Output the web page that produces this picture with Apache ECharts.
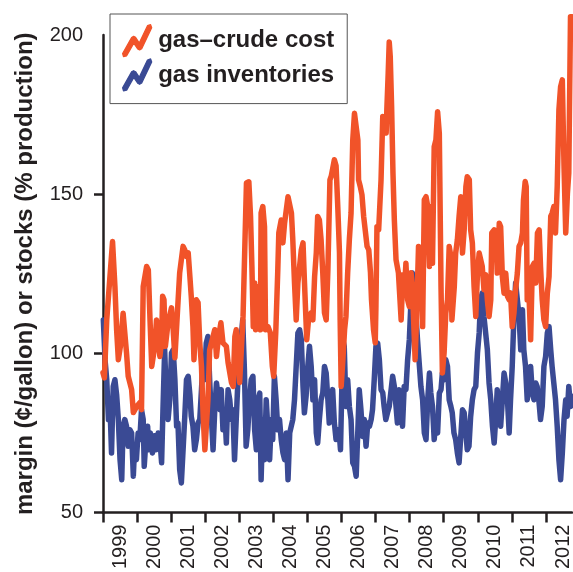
<!DOCTYPE html>
<html>
<head>
<meta charset="utf-8">
<script src="https://cdn.jsdelivr.net/npm/echarts@6/dist/echarts.min.js"></script>
<style>html,body{margin:0;padding:0;background:#fff}#c{width:573px;height:572px}</style>
</head>
<body>
<div id="c"></div>
<script>
const seriesNames = ['gas\u2013crude cost', 'gas inventories'];
const yearTicks = [1999, 2000, 2001, 2002, 2003, 2004, 2005, 2006, 2007, 2008, 2009, 2010, 2011, 2012];
const yTicks = [50, 100, 150];
const yAxisTitle = 'margin (\u00a2/gallon) or stocks (% production)';

const costYears = [1999.00,1999.04,1999.11,1999.28,1999.35,1999.40,1999.45,1999.51,1999.59,1999.69,1999.74,1999.84,1999.89,1999.99,2000.08,2000.13,2000.18,2000.28,2000.33,2000.38,2000.43,2000.47,2000.52,2000.57,2000.62,2000.67,2000.72,2000.75,2000.79,2000.83,2000.91,2001.01,2001.06,2001.11,2001.20,2001.25,2001.35,2001.40,2001.45,2001.50,2001.55,2001.59,2001.64,2001.67,2001.74,2001.79,2001.84,2001.89,2001.94,2001.99,2002.04,2002.08,2002.13,2002.23,2002.28,2002.33,2002.38,2002.46,2002.52,2002.62,2002.67,2002.77,2002.82,2002.87,2002.91,2002.96,2003.01,2003.11,2003.16,2003.21,2003.28,2003.33,2003.37,2003.41,2003.45,2003.48,2003.52,2003.57,2003.62,2003.64,2003.69,2003.74,2003.77,2003.84,2003.91,2003.97,2004.01,2004.07,2004.13,2004.16,2004.23,2004.28,2004.33,2004.43,2004.48,2004.53,2004.57,2004.62,2004.67,2004.72,2004.77,2004.82,2004.87,2004.91,2004.98,2005.04,2005.11,2005.16,2005.21,2005.26,2005.30,2005.35,2005.40,2005.45,2005.50,2005.55,2005.60,2005.66,2005.70,2005.79,2005.84,2005.89,2005.94,2005.96,2005.99,2006.04,2006.09,2006.13,2006.18,2006.23,2006.28,2006.33,2006.38,2006.43,2006.48,2006.50,2006.55,2006.60,2006.65,2006.70,2006.75,2006.80,2006.85,2006.88,2006.94,2006.99,2007.01,2007.04,2007.09,2007.16,2007.21,2007.25,2007.31,2007.33,2007.37,2007.40,2007.43,2007.47,2007.51,2007.55,2007.60,2007.67,2007.75,2007.80,2007.84,2007.89,2007.94,2007.99,2008.04,2008.08,2008.13,2008.16,2008.20,2008.26,2008.33,2008.38,2008.43,2008.48,2008.53,2008.58,2008.62,2008.67,2008.72,2008.77,2008.82,2008.87,2008.92,2008.96,2009.01,2009.06,2009.11,2009.16,2009.21,2009.24,2009.31,2009.35,2009.40,2009.45,2009.50,2009.55,2009.60,2009.65,2009.69,2009.75,2009.79,2009.84,2009.89,2009.94,2009.99,2010.04,2010.13,2010.18,2010.23,2010.28,2010.33,2010.38,2010.41,2010.48,2010.53,2010.57,2010.63,2010.67,2010.72,2010.77,2010.82,2010.87,2010.92,2010.96,2011.01,2011.06,2011.11,2011.16,2011.21,2011.26,2011.31,2011.34,2011.39,2011.42,2011.45,2011.50,2011.55,2011.60,2011.65,2011.70,2011.75,2011.80,2011.84,2011.89,2011.94,2011.99,2012.04,2012.09,2012.14,2012.18,2012.23,2012.28,2012.33,2012.38,2012.43,2012.48,2012.53,2012.58,2012.63,2012.67,2012.72,2012.78];
const costValues = [93.9,92.3,110.5,135.1,121.0,107.4,98.0,102.2,112.6,100.2,92.8,88.6,81.4,83.3,84.5,82.3,121.0,127.3,126.2,110.5,95.9,95.5,102.2,110.5,110.0,99.0,104.3,117.9,116.8,102.2,109.6,114.3,107.4,98.6,115.9,125.3,133.6,132.5,130.4,131.6,124.1,117.9,108.4,98.0,116.8,115.9,103.3,95.9,80.2,69.7,69.7,85.4,101.1,105.3,107.4,99.0,104.3,109.6,103.3,102.2,97.1,90.8,89.6,105.3,107.4,98.0,90.8,111.6,132.5,153.5,153.9,143.0,127.3,108.4,122.1,107.4,121.0,119.0,107.4,144.1,146.1,139.8,107.4,108.4,106.5,95.9,92.8,106.5,126.2,137.9,141.9,134.7,141.0,149.2,149.8,144.1,135.7,122.2,110.5,122.2,122.2,132.5,134.7,123.1,104.3,111.6,112.7,110.5,124.1,131.6,143.0,141.9,135.7,125.3,112.7,110.5,126.2,154.5,155.7,160.8,158.9,146.1,131.6,110.5,89.6,98.0,107.4,111.6,125.3,135.7,144.1,167.0,175.4,175.9,167.0,154.5,152.4,149.8,143.0,143.0,133.6,132.5,125.3,116.8,107.4,103.3,114.7,139.8,138.8,154.5,174.4,173.3,169.2,176.5,188.0,197.8,193.2,177.5,156.6,141.9,129.4,125.3,110.5,124.7,118.4,128.3,116.8,114.7,125.3,121.0,106.5,98.0,110.5,133.6,132.5,108.4,148.2,149.2,146.1,127.3,146.1,128.3,164.9,167.0,175.9,169.1,121.0,93.8,100.1,112.6,116.8,133.6,130.4,110.5,121.0,131.5,135.7,143.0,149.2,131.5,138.8,152.4,155.5,154.5,138.8,134.6,121.0,111.6,125.2,131.5,127.3,120.0,124.7,116.8,111.6,116.8,137.8,138.8,137.8,125.2,140.9,139.8,124.1,118.9,125.2,117.9,116.8,119.0,108.4,112.6,120.0,125.2,133.6,134.7,137.8,148.2,154.0,152.4,116.8,119.0,104.3,127.3,128.3,122.1,137.8,138.8,127.3,116.8,110.5,108.4,118.9,124.1,143.0,144.0,146.1,137.8,152.4,176.5,183.8,185.9,158.7,137.8,150.3,156.6,205.7,205.7];

const stockYears = [1999.01,1999.06,1999.11,1999.16,1999.20,1999.25,1999.30,1999.35,1999.40,1999.45,1999.50,1999.55,1999.59,1999.64,1999.69,1999.74,1999.79,1999.84,1999.89,1999.93,1999.98,2000.03,2000.08,2000.13,2000.18,2000.21,2000.26,2000.31,2000.34,2000.39,2000.45,2000.51,2000.55,2000.62,2000.67,2000.72,2000.76,2000.81,2000.86,2000.91,2000.96,2001.01,2001.06,2001.11,2001.16,2001.20,2001.25,2001.30,2001.35,2001.40,2001.45,2001.50,2001.55,2001.59,2001.64,2001.69,2001.74,2001.79,2001.84,2001.89,2001.93,2001.98,2002.03,2002.08,2002.13,2002.18,2002.23,2002.28,2002.33,2002.38,2002.43,2002.47,2002.52,2002.57,2002.62,2002.67,2002.72,2002.77,2002.81,2002.86,2002.91,2002.96,2003.01,2003.06,2003.10,2003.15,2003.20,2003.25,2003.30,2003.35,2003.40,2003.45,2003.50,2003.55,2003.60,2003.64,2003.69,2003.74,2003.79,2003.84,2003.89,2003.94,2003.98,2004.03,2004.08,2004.13,2004.18,2004.23,2004.28,2004.33,2004.38,2004.43,2004.48,2004.53,2004.57,2004.62,2004.67,2004.72,2004.77,2004.82,2004.87,2004.91,2004.96,2005.01,2005.06,2005.11,2005.16,2005.21,2005.26,2005.30,2005.35,2005.40,2005.45,2005.50,2005.55,2005.60,2005.64,2005.69,2005.74,2005.79,2005.84,2005.89,2005.94,2005.97,2006.04,2006.08,2006.13,2006.18,2006.23,2006.28,2006.33,2006.38,2006.43,2006.48,2006.52,2006.57,2006.62,2006.67,2006.72,2006.77,2006.82,2006.87,2006.91,2006.96,2007.01,2007.06,2007.11,2007.16,2007.21,2007.25,2007.30,2007.35,2007.40,2007.45,2007.50,2007.55,2007.60,2007.64,2007.69,2007.74,2007.79,2007.84,2007.89,2007.94,2007.99,2008.04,2008.08,2008.13,2008.18,2008.23,2008.28,2008.33,2008.38,2008.43,2008.48,2008.53,2008.58,2008.62,2008.67,2008.72,2008.77,2008.82,2008.87,2008.92,2008.96,2009.01,2009.06,2009.11,2009.16,2009.21,2009.25,2009.30,2009.35,2009.40,2009.45,2009.50,2009.55,2009.60,2009.65,2009.69,2009.74,2009.79,2009.84,2009.89,2009.94,2009.99,2010.04,2010.08,2010.13,2010.18,2010.23,2010.28,2010.33,2010.38,2010.43,2010.48,2010.53,2010.57,2010.62,2010.67,2010.72,2010.77,2010.82,2010.87,2010.92,2010.96,2011.01,2011.06,2011.11,2011.16,2011.21,2011.26,2011.31,2011.35,2011.40,2011.45,2011.50,2011.55,2011.60,2011.65,2011.70,2011.74,2011.79,2011.84,2011.89,2011.94,2011.99,2012.04,2012.09,2012.14,2012.18,2012.23,2012.28,2012.33,2012.38,2012.43,2012.48,2012.53,2012.58,2012.62,2012.67,2012.72,2012.76];
const stockValues = [110.5,98.0,91.7,79.2,85.4,68.7,89.6,91.7,87.0,79.2,66.6,60.3,77.1,79.2,77.1,70.8,76.0,75.0,61.4,71.3,66.6,75.0,72.9,82.3,79.2,64.5,72.9,77.1,69.7,75.0,68.7,74.1,69.7,75.0,72.9,65.6,82.3,101.1,85.4,79.2,85.4,100.1,101.1,91.7,77.1,78.1,63.5,59.3,69.7,80.2,91.7,92.8,87.0,80.2,77.1,69.7,72.9,78.1,79.2,88.6,96.9,91.7,103.2,105.3,91.7,80.2,69.7,82.3,90.7,90.2,82.3,88.6,76.0,82.3,71.8,88.6,85.4,79.2,82.3,66.6,79.2,91.7,101.1,105.3,110.5,94.9,70.8,76.0,85.4,91.7,92.8,76.0,69.7,85.4,87.5,60.3,79.2,66.6,85.4,85.4,66.6,79.2,72.9,92.8,85.4,76.0,79.2,72.9,68.8,66.6,75.0,60.3,75.0,75.0,79.2,85.4,95.9,106.4,107.4,104.3,89.6,81.3,86.5,95.9,102.2,95.9,85.4,91.7,75.0,71.8,79.2,85.4,87.6,95.9,93.8,85.4,78.1,83.3,88.6,78.1,72.9,76.0,73.9,69.7,104.3,102.2,83.3,91.7,83.3,79.2,65.6,64.5,61.4,76.0,88.6,82.3,73.9,79.2,70.8,78.1,77.1,79.2,82.3,91.7,102.2,103.2,98.0,88.6,87.6,83.3,79.2,81.4,83.3,83.3,92.8,89.6,83.3,78.1,88.6,85.4,77.1,89.6,88.6,98.0,104.3,116.8,125.2,123.1,112.6,104.3,96.9,89.6,85.4,75.0,72.9,85.4,93.8,87.6,83.3,72.9,79.2,75.0,87.5,88.6,93.8,91.7,98.0,95.9,85.4,83.3,81.3,75.0,72.9,68.7,65.6,73.9,82.3,81.3,75.0,69.7,70.8,80.2,85.4,88.6,89.6,100.1,106.4,116.8,118.9,111.6,106.4,101.1,90.7,85.4,77.1,71.8,80.2,88.6,80.2,77.1,85.4,93.8,90.7,85.4,75.0,85.4,95.9,111.6,122.1,116.8,111.6,101.1,113.7,101.1,95.9,85.4,90.7,95.9,87.5,85.4,90.7,89.6,85.4,79.2,83.3,95.9,99.0,106.4,108.4,101.1,95.9,90.7,85.4,77.1,66.6,60.3,68.7,79.2,85.4,80.2,89.6,83.3,86.5];

const ink = '#231F20';
const orange = '#F15329';
const blue = '#3A4A94';
const font = '"Liberation Sans", Arial, Helvetica, sans-serif';
const boltIcon = 'path://M0.1,28.97 L9.1,12.97 L11.1,11.8 L13.01,12.82 L16.77,18.45 L25.02,1.11 L28.09,0.02 L29.18,3.09 L19.18,24.09 L17.1,25.4 L15.19,24.38 L11.27,18.49 L4.1,31.23 L0.97,32.1 Z';

const chart = echarts.init(document.getElementById('c'), null, {renderer: 'canvas'});
chart.setOption({
  animation: false,
  backgroundColor: '#ffffff',
  textStyle: {fontFamily: font},
  grid: {left: 103, right: 0, top: 35, bottom: 59, containLabel: false},
  legend: {
    data: [
      {name: seriesNames[0], itemStyle: {color: orange, borderColor: orange, borderWidth: 1.3, borderJoin: 'round'}},
      {name: seriesNames[1], itemStyle: {color: blue, borderColor: blue, borderWidth: 1.3, borderJoin: 'round'}}
    ],
    orient: 'vertical',
    left: 110,
    top: 14,
    padding: [10, 13, 12, 12],
    itemGap: 1,
    itemWidth: 32,
    itemHeight: 32,
    icon: boltIcon,
    borderColor: '#555555',
    borderWidth: 1,
    selectedMode: false,
    textStyle: {fontSize: 24, fontWeight: 'bold', color: ink, fontFamily: font}
  },
  xAxis: {
    type: 'value',
    min: 1999,
    max: 2012.76,
    interval: 1,
    splitLine: {show: false},
    axisLine: {show: true, lineStyle: {color: ink, width: 2.5}},
    axisTick: {show: true, length: 10, lineStyle: {color: ink, width: 2.5}, customValues: yearTicks},
    axisLabel: {
      customValues: yearTicks.map(function (y) { return y + 0.5; }),
      formatter: function (v) { return String(Math.floor(v)); },
      rotate: 90, margin: 12, fontSize: 20, color: ink, fontFamily: font
    }
  },
  yAxis: {
    type: 'value',
    min: 50,
    max: 200,
    interval: 50,
    name: yAxisTitle,
    nameLocation: 'middle',
    nameGap: 66,
    nameTextStyle: {fontSize: 24, fontWeight: 'bold', color: ink, fontFamily: font},
    splitLine: {show: false},
    axisLine: {show: true, lineStyle: {color: ink, width: 2.5}},
    axisTick: {show: true, length: 9, lineStyle: {color: ink, width: 2.5}, customValues: yTicks},
    axisLabel: {fontSize: 20, margin: 20, color: ink, fontFamily: font}
  },
  series: [
    {
      name: seriesNames[1], type: 'line', showSymbol: false, symbol: 'none', clip: false,
      data: stockYears.map(function (y, i) { return [y, stockValues[i]]; }),
      itemStyle: {color: blue},
      lineStyle: {color: blue, width: 5.5, cap: 'round', join: 'round'}
    },
    {
      name: seriesNames[0], type: 'line', showSymbol: false, symbol: 'none', clip: false,
      data: costYears.map(function (y, i) { return [y, costValues[i]]; }),
      itemStyle: {color: orange},
      lineStyle: {color: orange, width: 5.5, cap: 'round', join: 'round'}
    }
  ]
});
</script>
</body>
</html>
